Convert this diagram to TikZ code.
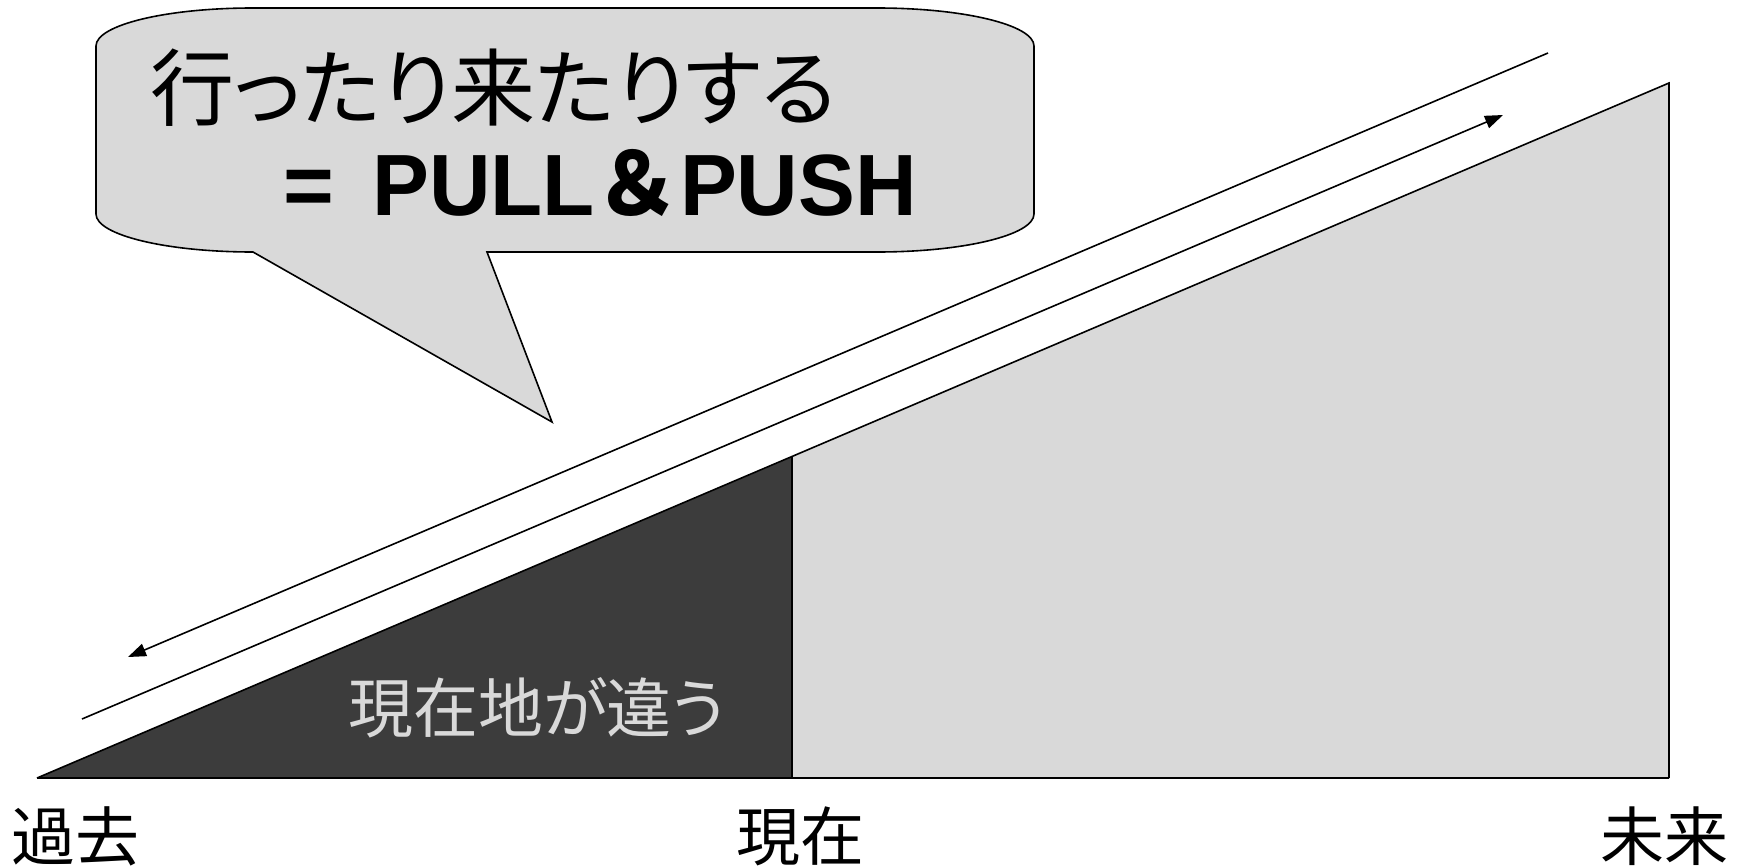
\documentclass[tikz,border=0pt]{standalone}
\usepackage{fontspec}
\setmainfont{Liberation Sans}
\newfontfamily\cjk[RawFeature=+palt]{Noto Sans CJK JP}
\newfontfamily\cjkfw{Noto Sans CJK JP}
\usetikzlibrary{arrows.meta}
\definecolor{lightfill}{HTML}{D9D9D9}
\definecolor{darkfill}{HTML}{3C3C3C}
\begin{document}
\begin{tikzpicture}[x=1pt,y=-1pt,line join=miter,
  edge/.style={line width=1.6pt},
  lbl/.style={inner sep=0pt,anchor=base west,font=\cjk\fontsize{64}{64}\selectfont}]
\useasboundingbox (0,0) rectangle (1742,867);
% slope
\coordinate (tip) at (37,778);
\coordinate (nowtop) at (792,457);
\coordinate (nowbot) at (792,778);
\coordinate (futtop) at (1669,83);
\coordinate (futbot) at (1669,778);
\fill[lightfill] (nowtop) -- (futtop) -- (futbot) -- (nowbot) -- cycle;
\fill[darkfill] (tip) -- (nowtop) -- (nowbot) -- cycle;
\draw[edge] (tip) -- (futtop) -- (futbot);
\draw[edge] (nowtop) -- (nowbot);
\draw[line width=2.6pt] (tip) -- (futbot);
% back-and-forth lines
\coordinate (upA) at (1548,53);
\coordinate (upB) at (128,657);
\draw[edge,-{Triangle[length=18pt,width=13pt]}] (upA) -- (upB);
\coordinate (loA) at (82,719);
\coordinate (loB) at (1503,115);
\draw[edge,-{Triangle[length=18pt,width=13pt]}] (loA) -- (loB);
% bubble
\draw[edge,fill=lightfill] (253,8) -- (877,8)
  .. controls (964,8) and (1034,25) .. (1034,46) -- (1034,214)
  .. controls (1034,235) and (964,252) .. (877,252) -- (487,252) -- (552,422) -- (253,252)
  .. controls (166,252) and (96,235) .. (96,214) -- (96,46)
  .. controls (96,25) and (166,8) .. (253,8) -- cycle;
\node[inner sep=0pt,anchor=base west,font=\cjk\fontsize{84}{84}\selectfont] (t1) at (150,119) {行ったり来たりする};
\node[inner sep=0pt,anchor=base west,font=\bfseries\fontsize{87}{87}\selectfont] (eq) at (283,215) {=};
\node[inner sep=0pt,anchor=base west,font=\bfseries\fontsize{87}{87}\selectfont] (pp) at (372,215) {\scalebox{0.98}[1]{PULL{\cjkfw\bfseries ＆}PUSH}};
% labels
\node[lbl,text=lightfill,font=\cjk\fontsize{65}{65}\selectfont] (diff) at (348,732) {現在地が違う};
\node[lbl] (past) at (11,860) {過去};
\node[lbl] (now) at (736,860) {現在};
\node[lbl] (future) at (1600,860) {未来};
\end{tikzpicture}
\end{document}
